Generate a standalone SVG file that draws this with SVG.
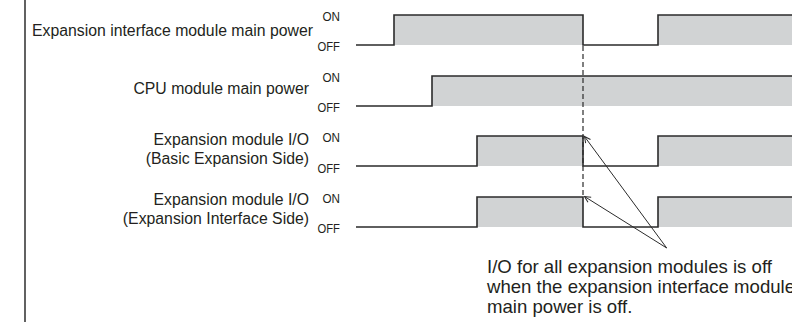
<svg xmlns="http://www.w3.org/2000/svg" width="792" height="322" viewBox="0 0 792 322">
  <style>
    .lbl { font-family: "Liberation Sans", Arial, sans-serif; font-size: 15.8px; fill: #231f20; text-anchor: end; }
    .st { font-family: "Liberation Sans", Arial, sans-serif; font-size: 13.5px; fill: #231f20; text-anchor: end; }
    .note { font-family: "Liberation Sans", Arial, sans-serif; font-size: 18.6px; fill: #231f20; }
    .wave { fill: none; stroke: #2b2b2b; stroke-width: 1.6; stroke-linejoin: miter; }
    .on { fill: #d1d3d4; stroke: none; }
    .dash { stroke: #2b2b2b; stroke-width: 1.2; stroke-dasharray: 5 3; fill: none; }
    .lead { stroke: #2b2b2b; stroke-width: 1; fill: none; marker-end: url(#ah); }
  </style>
  <defs>
    <marker id="ah" markerWidth="8" markerHeight="8" refX="7" refY="4" orient="auto" markerUnits="userSpaceOnUse">
      <path d="M1,1 L7,4 L1,7" fill="none" stroke="#2b2b2b" stroke-width="1"/>
    </marker>
  </defs>
  <rect width="792" height="322" fill="#ffffff"/>
  <line x1="25" y1="0" x2="25" y2="322" stroke="#3a3a3a" stroke-width="1.6"/>

  <g id="row-expansion-interface-power">
    <rect class="on" x="394" y="15" width="189" height="30"/>
    <rect class="on" x="658" y="15" width="134" height="30"/>
    <polyline class="wave" points="356,45 394,45 394,15 583,15 583,45 658,45 658,15 793,15"/>
    <text class="lbl" x="313" y="36">Expansion interface module main power</text>
    <text class="st" x="340" y="21" textLength="17.5" lengthAdjust="spacingAndGlyphs">ON</text>
    <text class="st" x="340" y="50.5" textLength="22.5" lengthAdjust="spacingAndGlyphs">OFF</text>
  </g>

  <g id="row-cpu-power">
    <rect class="on" x="432" y="76" width="360" height="30"/>
    <polyline class="wave" points="356,106 432,106 432,76 793,76"/>
    <text class="lbl" x="309" y="94">CPU module main power</text>
    <text class="st" x="340" y="82.3" textLength="17.5" lengthAdjust="spacingAndGlyphs">ON</text>
    <text class="st" x="340" y="111.5" textLength="22.5" lengthAdjust="spacingAndGlyphs">OFF</text>
  </g>

  <g id="row-io-basic">
    <rect class="on" x="477" y="136" width="106" height="30"/>
    <rect class="on" x="658" y="136" width="134" height="30"/>
    <polyline class="wave" points="356,166 477,166 477,136 583,136 583,166 658,166 658,136 793,136"/>
    <text class="lbl" x="309" y="145">Expansion module I/O</text>
    <text class="lbl" x="309" y="164">(Basic Expansion Side)</text>
    <text class="st" x="340" y="142.3" textLength="17.5" lengthAdjust="spacingAndGlyphs">ON</text>
    <text class="st" x="340" y="172.7" textLength="22.5" lengthAdjust="spacingAndGlyphs">OFF</text>
  </g>

  <g id="row-io-interface">
    <rect class="on" x="477" y="197" width="106" height="30"/>
    <rect class="on" x="658" y="197" width="134" height="30"/>
    <polyline class="wave" points="356,227 477,227 477,197 583,197 583,227 658,227 658,197 793,197"/>
    <text class="lbl" x="309" y="205">Expansion module I/O</text>
    <text class="lbl" x="309" y="224.3">(Expansion Interface Side)</text>
    <text class="st" x="340" y="203.3" textLength="17.5" lengthAdjust="spacingAndGlyphs">ON</text>
    <text class="st" x="340" y="233" textLength="22.5" lengthAdjust="spacingAndGlyphs">OFF</text>
  </g>

  <g id="note">
    <text class="note" x="487" y="272.7">I/O for all expansion modules is off</text>
    <text class="note" x="487" y="293.3">when the expansion interface module</text>
    <text class="note" x="487" y="313.3">main power is off.</text>
  </g>

  <g id="connectors">
    <line class="dash" x1="583" y1="46" x2="583" y2="197"/>
    <line class="lead" x1="666.7" y1="248" x2="584.5" y2="136.5"/>
    <line class="lead" x1="666.7" y1="248" x2="584.5" y2="196.5"/>
  </g>
</svg>
